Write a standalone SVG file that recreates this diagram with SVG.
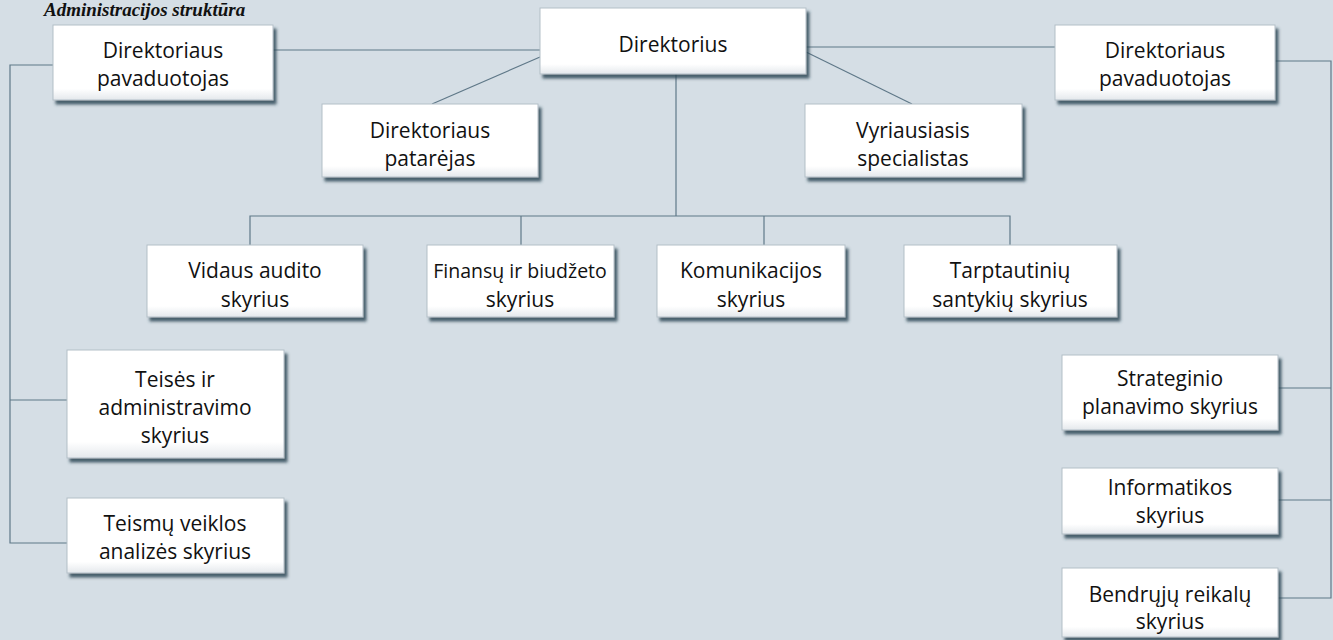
<svg xmlns="http://www.w3.org/2000/svg" width="1333" height="640" viewBox="0 0 1333 640">
  <defs>
    <filter id="sh" x="-10%" y="-10%" width="125%" height="135%">
      <feDropShadow dx="3" dy="4" stdDeviation="1.6" flood-color="#2f4655" flood-opacity="0.85"/>
    </filter>
    <linearGradient id="gv" x1="0" y1="0" x2="0" y2="1">
      <stop offset="0" stop-color="#ffffff"/>
      <stop offset="0.85" stop-color="#ffffff"/>
      <stop offset="1" stop-color="#e4e8ec"/>
    </linearGradient>
    <style>
      .bg { fill: #d5dee5; }
      .box { fill: url(#gv); stroke: #b3bfc8; stroke-width: 1; filter: url(#sh); }
      .t { font-family: "Open Sans", "Noto Sans", "Liberation Sans", sans-serif; font-size: 21px; fill: #111; text-anchor: middle; }
      .title { font-family: "Liberation Serif", serif; font-size: 19px; font-weight: bold; font-style: italic; fill: #111; }
      .ln { fill: none; stroke: #5f7888; stroke-width: 1.2; }
    </style>
  </defs>
  <rect class="bg" x="0" y="0" width="1333" height="640"/>
  <text class="title" x="44" y="16">Administracijos struktūra</text>

  <g id="connectors">
    <path class="ln" d="M273 50 H540"/>
    <path class="ln" d="M806 47 H1055"/>
    <path class="ln" d="M540 57 L432 104"/>
    <path class="ln" d="M806 52 L912 104"/>
    <path class="ln" d="M676 74 V216"/>
    <path class="ln" d="M250 245 V216 H1010 V245"/>
    <path class="ln" d="M521 216 V245"/>
    <path class="ln" d="M764 216 V245"/>
    <path class="ln" d="M53 65 H10 V543 H67"/>
    <path class="ln" d="M10 400 H67"/>
    <path class="ln" d="M1275 61 H1331 V598 H1278"/>
    <path class="ln" d="M1278 388 H1331"/>
    <path class="ln" d="M1278 500 H1331"/>
  </g>

  <g id="direktorius">
    <rect class="box" x="540" y="8" width="266" height="66"/>
    <text class="t" x="673" y="52">Direktorius</text>
  </g>
  <g id="pavaduotojas-kairys">
    <rect class="box" x="53" y="25" width="220" height="75"/>
    <text class="t" x="163" y="58">Direktoriaus</text>
    <text class="t" x="163" y="86">pavaduotojas</text>
  </g>
  <g id="pavaduotojas-desinys">
    <rect class="box" x="1055" y="25" width="220" height="75"/>
    <text class="t" x="1165" y="58">Direktoriaus</text>
    <text class="t" x="1165" y="86">pavaduotojas</text>
  </g>
  <g id="patarejas">
    <rect class="box" x="322" y="104" width="216" height="73"/>
    <text class="t" x="430" y="138">Direktoriaus</text>
    <text class="t" x="430" y="166">patarėjas</text>
  </g>
  <g id="specialistas">
    <rect class="box" x="805" y="104" width="217" height="73"/>
    <text class="t" x="913" y="138">Vyriausiasis</text>
    <text class="t" x="913" y="166">specialistas</text>
  </g>
  <g id="vidaus-audito">
    <rect class="box" x="147" y="245" width="216" height="72"/>
    <text class="t" x="255" y="278">Vidaus audito</text>
    <text class="t" x="255" y="307">skyrius</text>
  </g>
  <g id="finansu">
    <rect class="box" x="427" y="245" width="187" height="72"/>
    <text class="t" x="520" y="278" style="font-size:19.5px">Finansų ir biudžeto</text>
    <text class="t" x="520" y="307">skyrius</text>
  </g>
  <g id="komunikacijos">
    <rect class="box" x="657" y="245" width="188" height="72"/>
    <text class="t" x="751" y="278">Komunikacijos</text>
    <text class="t" x="751" y="307">skyrius</text>
  </g>
  <g id="tarptautiniu">
    <rect class="box" x="904" y="245" width="213" height="72"/>
    <text class="t" x="1010" y="278">Tarptautinių</text>
    <text class="t" x="1010" y="307">santykių skyrius</text>
  </g>
  <g id="teises">
    <rect class="box" x="67" y="350" width="217" height="108"/>
    <text class="t" x="175" y="387">Teisės ir</text>
    <text class="t" x="175" y="415">administravimo</text>
    <text class="t" x="175" y="443">skyrius</text>
  </g>
  <g id="teismu">
    <rect class="box" x="67" y="498" width="217" height="75"/>
    <text class="t" x="175" y="531">Teismų veiklos</text>
    <text class="t" x="175" y="559">analizės skyrius</text>
  </g>
  <g id="strateginio">
    <rect class="box" x="1062" y="355" width="216" height="75"/>
    <text class="t" x="1170" y="386">Strateginio</text>
    <text class="t" x="1170" y="414">planavimo skyrius</text>
  </g>
  <g id="informatikos">
    <rect class="box" x="1062" y="468" width="216" height="66"/>
    <text class="t" x="1170" y="495">Informatikos</text>
    <text class="t" x="1170" y="523">skyrius</text>
  </g>
  <g id="bendruju">
    <rect class="box" x="1062" y="568" width="216" height="69"/>
    <text class="t" x="1170" y="602">Bendrųjų reikalų</text>
    <text class="t" x="1170" y="629">skyrius</text>
  </g>
</svg>
